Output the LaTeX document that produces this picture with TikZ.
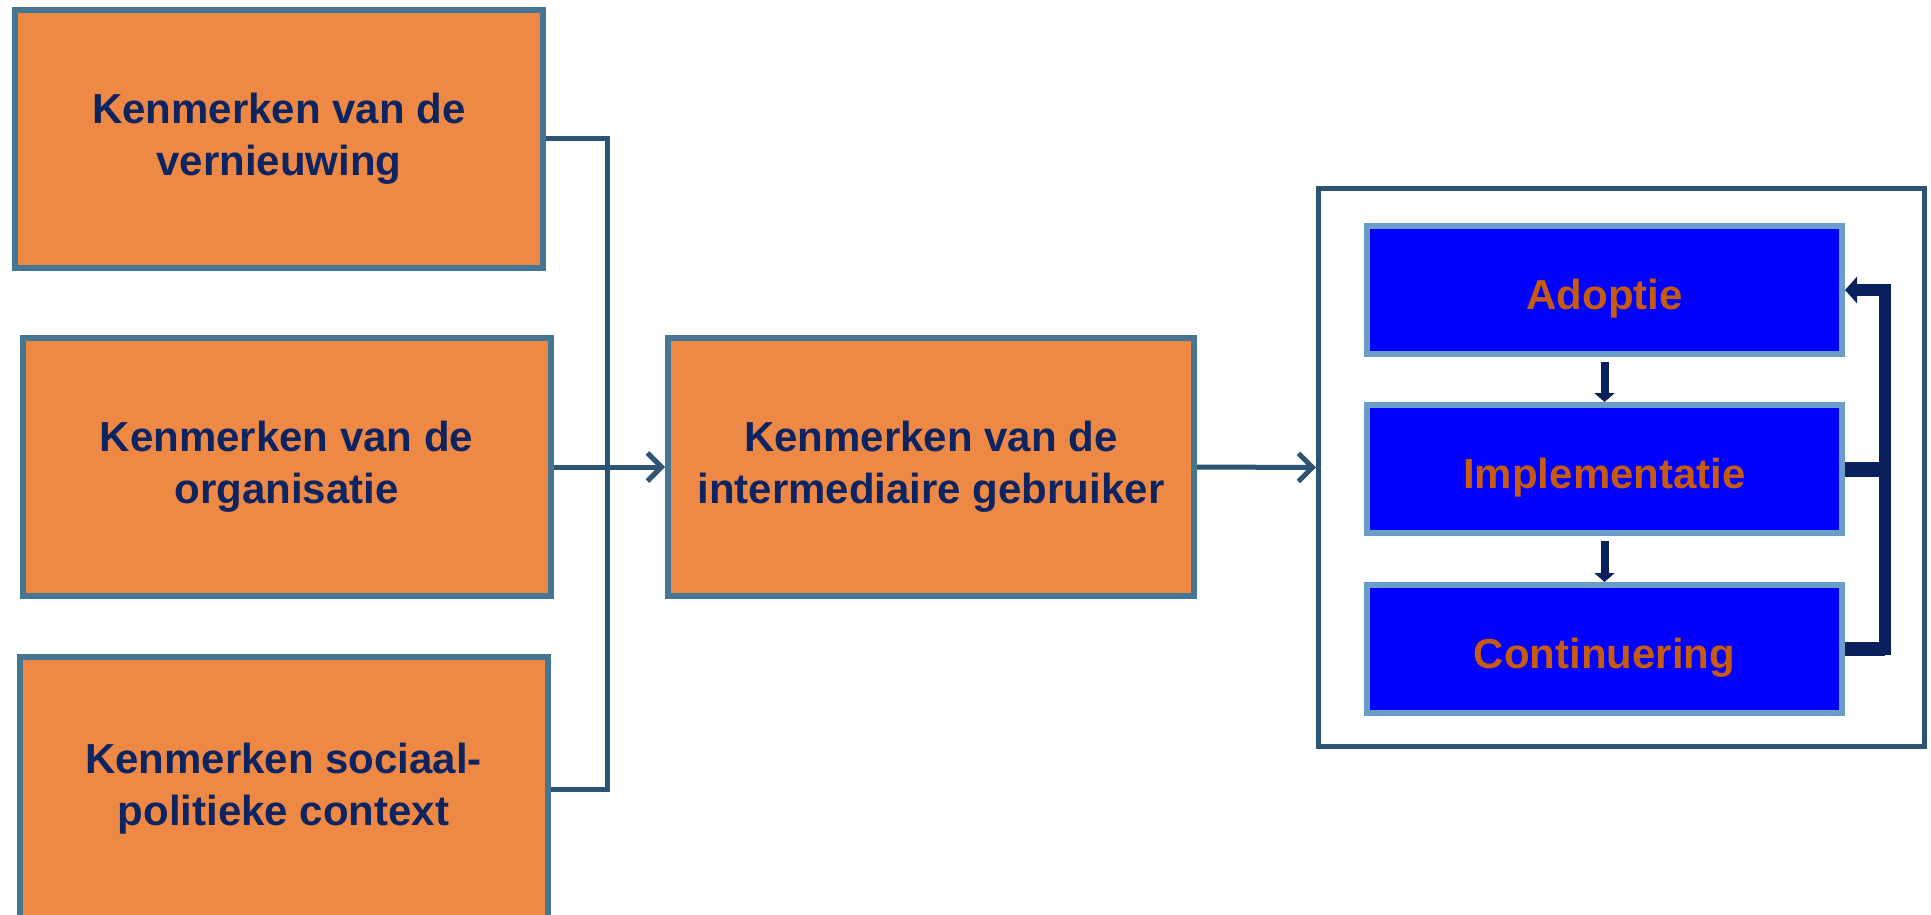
\documentclass[tikz,border=0pt]{standalone}
\usepackage{fontspec}
\setmainfont{Liberation Sans}
\usetikzlibrary{arrows.meta,positioning}

\definecolor{boxorange}{RGB}{237,137,69}
\definecolor{boxedge}{RGB}{71,117,148}
\definecolor{linkblue}{RGB}{46,84,115}
\definecolor{textnavy}{RGB}{14,36,96}
\definecolor{stageblue}{RGB}{0,0,255}
\definecolor{stageedge}{RGB}{106,157,200}
\definecolor{stagetext}{RGB}{197,90,17}
\definecolor{loopnavy}{RGB}{10,32,92}

\tikzset{
    kenmerk/.style={draw=boxedge, fill=boxorange, line width=6pt, minimum width=528pt,
        minimum height=258pt, inner sep=0pt, align=center, text=textnavy,
        font=\bfseries\fontsize{42}{52}\selectfont},
    fase/.style={draw=stageedge, fill=stageblue, line width=6pt, minimum width=475pt,
        minimum height=128pt, inner sep=0pt, text=stagetext, text height=38pt, text depth=0pt,
        font=\bfseries\fontsize{42}{49}\selectfont},
    link/.style={draw=linkblue, line width=5pt, line join=miter},
    linkarrow/.style={link, -{Straight Barb[length=14pt,width=28pt]}},
    stap/.style={draw=loopnavy, line width=8pt, -{Triangle[length=9pt,width=20pt]}},
    terug/.style={draw=loopnavy, line width=12pt, line join=miter},
}

\begin{document}
\begin{tikzpicture}[x=1pt, y=-1pt]
    \useasboundingbox (0,0) rectangle (1931,915);

    % linker kolom
    \node[kenmerk] (vernieuwing) at (279, 139){Kenmerken van de\\vernieuwing};
    \node[kenmerk] (organisatie) at (286.5, 467){Kenmerken van de\\organisatie};
    \node[kenmerk, minimum height=264pt] (context) at (283.5, 789){Kenmerken sociaal-\\politieke context};

    \coordinate (knik) at (607, 139);
    \draw[link](vernieuwing.east) -- (knik) |- (context.east);

    % midden
    \node[kenmerk, minimum width=526pt] (gebruiker) at (931, 467){Kenmerken van de\\intermediaire gebruiker};
    \draw[linkarrow](organisatie.east) to (gebruiker.west);

    % proces
    \node[draw=linkblue, line width=5pt, minimum width=606pt, minimum height=558pt] (proces) at (1621.5, 467.5){};
    \draw[linkarrow](gebruiker.east) to (proces.west);

        \node[fase] (adoptie) at (1604.5, 290){Adoptie};
        \node[fase] (implementatie) at (1604.5, 469){Implementatie};
        \node[fase] (continuering) at (1604.5, 649){Continuering};

        \draw[stap, shorten <=5pt](adoptie) to (implementatie);
        \draw[stap, shorten <=5pt](implementatie) to (continuering);

    % terugkoppeling
    \coordinate (terugx) at (1885, 0);
    \draw[terug, -{Triangle[length=12pt,width=26pt]}](continuering.east) -- (continuering.east -| terugx) |- (adoptie.east);
    \draw[terug, line width=15pt](implementatie.east) to (implementatie.east -| terugx);
    \draw[terug, line width=14pt](continuering.east) to (continuering.east -| terugx);
\end{tikzpicture}
\end{document}
